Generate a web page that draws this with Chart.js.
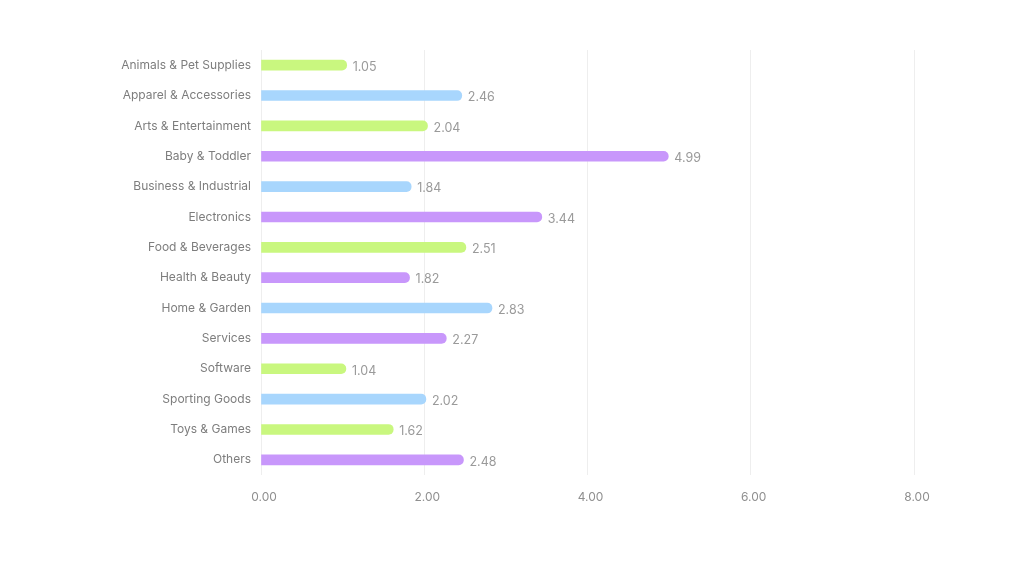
<!DOCTYPE html>
<html>
<head>
<meta charset="utf-8">
<script src="https://cdn.jsdelivr.net/npm/chart.js@4"></script>
<style>
  html, body { margin: 0; padding: 0; background: #ffffff; }
  #wrap { width: 1024px; height: 576px; }
</style>
</head>
<body>
<div id="wrap"><canvas id="barras"></canvas></div>
<script>
// Dados do gráfico
const categories = [
  "Animals & Pet Supplies", "Apparel & Accessories", "Arts & Entertainment",
  "Baby & Toddler", "Business & Industrial", "Electronics", "Food & Beverages",
  "Health & Beauty", "Home & Garden", "Services", "Software", "Sporting Goods",
  "Toys & Games", "Others"
];
const values = [1.05, 2.46, 2.04, 4.99, 1.84, 3.44, 2.51, 1.82, 2.83, 2.27, 1.04, 2.02, 1.62, 2.48];
const colorGroups = ["g", "b", "g", "p", "b", "p", "g", "p", "b", "p", "g", "b", "g", "p"];
const xTicks = [0, 2, 4, 6, 8];

const palette = { g: "#c9f77f", b: "#a8d6fd", p: "#c897fb" };

// Plugin dos rótulos de valor
const valueLabels = {
  id: "valueLabels",
  afterDatasetsDraw(chart) {
    const ctx = chart.ctx;
    const meta = chart.getDatasetMeta(0);
    ctx.save();
    ctx.font = "12.5px Inter";
    ctx.fillStyle = "#9a9a9a";
    ctx.textAlign = "left";
    ctx.textBaseline = "middle";
    meta.data.forEach((bar, i) => {
      ctx.fillText(values[i].toFixed(2), bar.x + 6, bar.y + 2);
    });
    ctx.restore();
  },
};

let barras = new Chart(document.getElementById("barras"), {
  type: "bar",
  data: {
    labels: categories,
    datasets: [{
      data: values,
      backgroundColor: colorGroups.map((c) => palette[c]),
      barThickness: 10,
      borderRadius: 5,
      borderSkipped: "start",
    }],
  },
  options: {
    indexAxis: "y",
    responsive: true,
    maintainAspectRatio: false,
    animation: false,
    layout: {
      padding: { left: 0, right: 110, top: 50, bottom: 65 },
    },
    plugins: {
      legend: { display: false },
      tooltip: { enabled: false },
    },
    scales: {
      x: {
        min: 0,
        max: 8,
        afterBuildTicks(axis) {
          axis.ticks = xTicks.map((v) => ({ value: v }));
        },
        afterFit(axis) {
          axis.height = 36;
        },
        grid: { color: "#eeeeee", drawTicks: false },
        border: { display: false },
        ticks: {
          padding: 15,
          labelOffset: 3,
          color: "#8f8f8f",
          font: { family: "Inter", size: 12 },
          callback: (v) => Number(v).toFixed(2),
        },
      },
      y: {
        afterFit(axis) {
          axis.width = 261;
        },
        grid: { display: false, drawTicks: false },
        border: { display: false },
        ticks: {
          padding: 10,
          color: "#7d7d7d",
          font: { family: "Inter", size: 12 },
        },
      },
    },
  },
  plugins: [valueLabels],
});
</script>
</body>
</html>
